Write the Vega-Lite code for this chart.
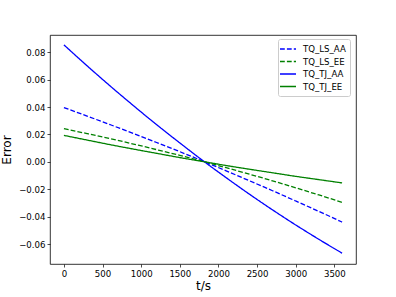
{
  "$schema": "https://vega.github.io/schema/vega-lite/v6.json",
  "width": 306,
  "height": 229,
  "autosize": "none",
  "padding": {"left": 50, "top": 35, "right": 40, "bottom": 33},
  "background": "white",
  "config": {
    "font": "DejaVu Sans",
    "view": {"stroke": "black", "strokeWidth": 0.8},
    "axis": {
      "grid": false,
      "domain": false,
      "tickColor": "black",
      "tickSize": 3,
      "tickWidth": 0.7,
      "labelColor": "black",
      "labelFontSize": 8.6,
      "labelFont": "DejaVu Sans",
      "labelPadding": 2,
      "titleColor": "black",
      "titleFont": "DejaVu Sans",
      "titleFontSize": 12,
      "titleFontWeight": "normal"
    }
  },
  "data": {
    "values": [
      {"t": 0, "s": "TQ_LS_AA", "v": 0.0396},
      {"t": 300, "s": "TQ_LS_AA", "v": 0.0334},
      {"t": 600, "s": "TQ_LS_AA", "v": 0.0271},
      {"t": 900, "s": "TQ_LS_AA", "v": 0.0207},
      {"t": 1200, "s": "TQ_LS_AA", "v": 0.0141},
      {"t": 1500, "s": "TQ_LS_AA", "v": 0.0074},
      {"t": 1800, "s": "TQ_LS_AA", "v": 0.0005},
      {"t": 2100, "s": "TQ_LS_AA", "v": -0.0066},
      {"t": 2400, "s": "TQ_LS_AA", "v": -0.0138},
      {"t": 2700, "s": "TQ_LS_AA", "v": -0.0211},
      {"t": 3000, "s": "TQ_LS_AA", "v": -0.0286},
      {"t": 3300, "s": "TQ_LS_AA", "v": -0.0362},
      {"t": 3600, "s": "TQ_LS_AA", "v": -0.0440},
      {"t": 0, "s": "TQ_LS_EE", "v": 0.0242},
      {"t": 300, "s": "TQ_LS_EE", "v": 0.0206},
      {"t": 600, "s": "TQ_LS_EE", "v": 0.0169},
      {"t": 900, "s": "TQ_LS_EE", "v": 0.0130},
      {"t": 1200, "s": "TQ_LS_EE", "v": 0.0089},
      {"t": 1500, "s": "TQ_LS_EE", "v": 0.0047},
      {"t": 1800, "s": "TQ_LS_EE", "v": 0.0003},
      {"t": 2100, "s": "TQ_LS_EE", "v": -0.0043},
      {"t": 2400, "s": "TQ_LS_EE", "v": -0.0090},
      {"t": 2700, "s": "TQ_LS_EE", "v": -0.0139},
      {"t": 3000, "s": "TQ_LS_EE", "v": -0.0190},
      {"t": 3300, "s": "TQ_LS_EE", "v": -0.0242},
      {"t": 3600, "s": "TQ_LS_EE", "v": -0.0296},
      {"t": 0, "s": "TQ_TJ_AA", "v": 0.0854},
      {"t": 300, "s": "TQ_TJ_AA", "v": 0.0701},
      {"t": 600, "s": "TQ_TJ_AA", "v": 0.0553},
      {"t": 900, "s": "TQ_TJ_AA", "v": 0.0410},
      {"t": 1200, "s": "TQ_TJ_AA", "v": 0.0271},
      {"t": 1500, "s": "TQ_TJ_AA", "v": 0.0138},
      {"t": 1800, "s": "TQ_TJ_AA", "v": 0.0008},
      {"t": 2100, "s": "TQ_TJ_AA", "v": -0.0116},
      {"t": 2400, "s": "TQ_TJ_AA", "v": -0.0236},
      {"t": 2700, "s": "TQ_TJ_AA", "v": -0.0351},
      {"t": 3000, "s": "TQ_TJ_AA", "v": -0.0461},
      {"t": 3300, "s": "TQ_TJ_AA", "v": -0.0566},
      {"t": 3600, "s": "TQ_TJ_AA", "v": -0.0667},
      {"t": 0, "s": "TQ_TJ_EE", "v": 0.0193},
      {"t": 300, "s": "TQ_TJ_EE", "v": 0.0159},
      {"t": 600, "s": "TQ_TJ_EE", "v": 0.0125},
      {"t": 900, "s": "TQ_TJ_EE", "v": 0.0093},
      {"t": 1200, "s": "TQ_TJ_EE", "v": 0.0062},
      {"t": 1500, "s": "TQ_TJ_EE", "v": 0.0031},
      {"t": 1800, "s": "TQ_TJ_EE", "v": 0.0002},
      {"t": 2100, "s": "TQ_TJ_EE", "v": -0.0027},
      {"t": 2400, "s": "TQ_TJ_EE", "v": -0.0054},
      {"t": 2700, "s": "TQ_TJ_EE", "v": -0.0080},
      {"t": 3000, "s": "TQ_TJ_EE", "v": -0.0106},
      {"t": 3300, "s": "TQ_TJ_EE", "v": -0.0130},
      {"t": 3600, "s": "TQ_TJ_EE", "v": -0.0154}
    ]
  },
  "mark": {"type": "line", "strokeWidth": 1.3, "interpolate": "monotone"},
  "encoding": {
    "x": {
      "field": "t", "type": "quantitative",
      "scale": {"domain": [-180, 3780], "nice": false, "zero": false},
      "axis": {"values": [0, 500, 1000, 1500, 2000, 2500, 3000, 3500], "title": "t/s", "titlePadding": 3, "format": "d"}
    },
    "y": {
      "field": "v", "type": "quantitative",
      "scale": {"domain": [-0.0746, 0.0926], "nice": false, "zero": false},
      "axis": {"values": [-0.06, -0.04, -0.02, 0, 0.02, 0.04, 0.06, 0.08], "format": ".2f", "title": "Error", "titlePadding": 5}
    },
    "color": {
      "field": "s", "type": "nominal",
      "scale": {"domain": ["TQ_LS_AA", "TQ_LS_EE", "TQ_TJ_AA", "TQ_TJ_EE"], "range": ["#0000ff", "#008000", "#0000ff", "#008000"]},
      "legend": {
        "title": null,
        "orient": "none",
        "legendX": 228,
        "legendY": 4,
        "padding": 4,
        "strokeColor": "#cccccc",
        "fillColor": "white",
        "cornerRadius": 2,
        "symbolType": "M-1.6,0H1.6",
        "symbolSize": 100,
        "symbolStrokeWidth": 1.3,
        "labelFontSize": 8.6,
        "labelFont": "DejaVu Sans",
        "labelColor": "black",
        "labelOffset": 9,
        "rowPadding": 1.5
      }
    },
    "strokeDash": {
      "field": "s", "type": "nominal",
      "scale": {"domain": ["TQ_LS_AA", "TQ_LS_EE", "TQ_TJ_AA", "TQ_TJ_EE"], "range": [[4.8, 2.1], [4.8, 2.1], [1, 0], [1, 0]]},
      "legend": null
    }
  }
}
